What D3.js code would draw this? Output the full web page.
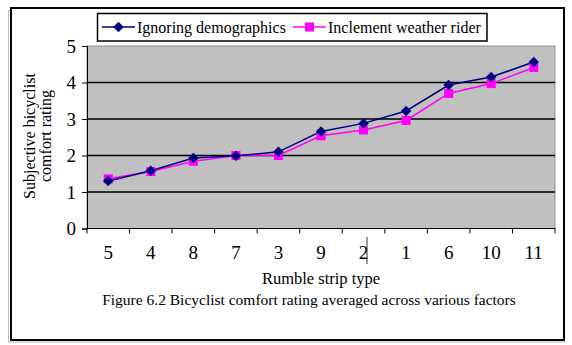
<!DOCTYPE html>
<html>
<head>
<meta charset="utf-8">
<script src="https://cdn.jsdelivr.net/npm/d3@7"></script>
<style>
  body { margin: 0; background: #fff; }
  svg { display: block; font-family: "Liberation Serif", "Times New Roman", serif; }
</style>
</head>
<body>
<svg id="chart" width="572" height="345"></svg>
<script>
const categories = ["5", "4", "8", "7", "3", "9", "2", "1", "6", "10", "11"];
const ignoring = [1.30, 1.58, 1.93, 1.99, 2.10, 2.66, 2.88, 3.22, 3.93, 4.15, 4.56];
const inclement = [1.36, 1.56, 1.84, 2.00, 2.00, 2.54, 2.70, 2.96, 3.70, 3.97, 4.41];
const yTicks = [0, 1, 2, 3, 4, 5];

const svg = d3.select("#chart");
const margin = { left: 87, right: 555, top: 46, bottom: 228.5 };

// page shadow + outer frame
svg.append("rect").attr("x", 8.5).attr("y", 10.5).attr("width", 556).attr("height", 331.5)
    .attr("fill", "none").attr("stroke", "#bbb").attr("stroke-width", 1);
svg.append("rect").attr("x", 11).attr("y", 8).attr("width", 553).attr("height", 332)
    .attr("fill", "#fff").attr("stroke", "#000").attr("stroke-width", 2);

const x = d3.scaleBand().domain(categories).range([margin.left, margin.right]);
const y = d3.scaleLinear().domain([0, 5]).range([margin.bottom, margin.top]);

// plot background
svg.append("rect")
    .attr("x", margin.left).attr("y", margin.top)
    .attr("width", margin.right - margin.left).attr("height", margin.bottom - margin.top)
    .attr("fill", "#c0c0c0").attr("stroke", "#909090").attr("stroke-width", 1);

// gridlines
svg.append("g").selectAll("line")
    .data(yTicks.filter(d => d > 0 && d < 5)).enter()
    .append("line")
    .attr("x1", margin.left).attr("x2", margin.right)
    .attr("y1", d => y(d)).attr("y2", d => y(d))
    .attr("stroke", "#000").attr("stroke-width", 1.5);

// y axis
const yAxis = svg.append("g")
    .attr("transform", `translate(${margin.left},0)`)
    .call(d3.axisLeft(y).tickValues(yTicks).tickFormat(d3.format("d")).tickSize(5).tickPadding(6));
yAxis.select(".domain").attr("stroke", "#000");
yAxis.selectAll("text").attr("font-size", 19).attr("fill", "#000")
    .attr("font-family", "Liberation Serif");

// x axis: ticks on band boundaries
const xAxis = svg.append("g").attr("transform", `translate(0,${margin.bottom})`);
xAxis.append("line").attr("x1", margin.left).attr("x2", margin.right)
    .attr("stroke", "#000");
xAxis.selectAll("line.tk")
    .data(categories.concat(["end"])).enter()
    .append("line").attr("class", "tk")
    .attr("x1", (d, i) => i < categories.length ? x(d) : margin.right)
    .attr("x2", (d, i) => i < categories.length ? x(d) : margin.right)
    .attr("y1", 0).attr("y2", 5).attr("stroke", "#000");
xAxis.selectAll("text")
    .data(categories).enter()
    .append("text")
    .attr("x", d => x(d) + x.bandwidth() / 2)
    .attr("y", 30)
    .attr("text-anchor", "middle")
    .attr("font-size", 19)
    .text(d => d);

// stray caret near "2"
svg.append("line").attr("x1", 367).attr("x2", 367).attr("y1", 237).attr("y2", 264)
    .attr("stroke", "#333").attr("stroke-width", 1);

const cx = (d, i) => x(categories[i]) + x.bandwidth() / 2;
const line = d3.line().x(cx).y(d => y(d));

// series: inclement (magenta) below, ignoring (navy) on top
svg.append("path").datum(inclement).attr("d", line)
    .attr("fill", "none").attr("stroke", "#ff00ff").attr("stroke-width", 1.5);
svg.append("path").datum(ignoring).attr("d", line)
    .attr("fill", "none").attr("stroke", "#000080").attr("stroke-width", 1.5);

svg.append("g").selectAll("rect").data(inclement).enter()
    .append("rect")
    .attr("x", (d, i) => cx(d, i) - 4.5).attr("y", d => y(d) - 4.5)
    .attr("width", 9).attr("height", 9).attr("fill", "#ff00ff");

const diamond = d3.symbol().type(d3.symbolDiamond2).size(70);
svg.append("g").selectAll("path").data(ignoring).enter()
    .append("path")
    .attr("d", diamond)
    .attr("transform", (d, i) => `translate(${cx(d, i)},${y(d)})`)
    .attr("fill", "#000080");

// y axis title, two rotated lines
[["Subjective bicyclist", 35], ["comfort rating", 51]].forEach(([t, px]) => {
    svg.append("text")
        .attr("transform", `translate(${px},136) rotate(-90)`)
        .attr("text-anchor", "middle")
        .attr("font-size", 16)
        .text(t);
});

// x axis title
svg.append("text").attr("x", (margin.left + margin.right) / 2).attr("y", 284)
    .attr("text-anchor", "middle").attr("font-size", 16.5).text("Rumble strip type");

// caption
svg.append("text").attr("x", 309).attr("y", 305)
    .attr("text-anchor", "middle").attr("font-size", 15.5)
    .text("Figure 6.2 Bicyclist comfort rating averaged across various factors");

// legend
const legend = svg.append("g");
legend.append("rect").attr("x", 97.5).attr("y", 13.5).attr("width", 389.5).attr("height", 27.5)
    .attr("fill", "#fff").attr("stroke", "#000").attr("stroke-width", 1.5);
const items = [
    { name: "Ignoring demographics", color: "#000080", shape: "diamond", x0: 102 },
    { name: "Inclement weather rider", color: "#ff00ff", shape: "square", x0: 293 }
];
items.forEach(it => {
    const g = legend.append("g").attr("transform", `translate(${it.x0},27)`);
    g.append("line").attr("x1", 0).attr("x2", 33).attr("stroke", it.color).attr("stroke-width", 1.5);
    if (it.shape === "diamond") {
        g.append("path").attr("d", diamond).attr("transform", "translate(16.5,0)").attr("fill", it.color);
    } else {
        g.append("rect").attr("x", 12).attr("y", -4.5).attr("width", 9).attr("height", 9).attr("fill", it.color);
    }
    g.append("text").attr("x", 35).attr("y", 5.5).attr("font-size", 16).text(it.name);
});
</script>
</body>
</html>
